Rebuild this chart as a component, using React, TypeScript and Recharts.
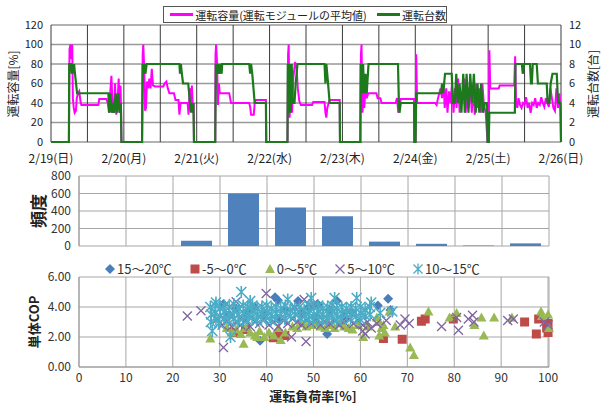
import {
  LineChart,
  Line,
  BarChart,
  Bar,
  ScatterChart,
  Scatter,
  XAxis,
  YAxis,
  CartesianGrid,
} from 'recharts'

const FONT = '"Noto Sans CJK JP", "Noto Sans", sans-serif'
const MAGENTA = '#ff00ff'
const DARK_GREEN = '#1c7a1c'

// ---- top panel: time series (hours from 2/19 0:00) ----
const dateLabels = ['2/19(日)', '2/20(月)', '2/21(火)', '2/22(水)', '2/23(木)', '2/24(金)', '2/25(土)', '2/26(日)']
const halfDayTicks = [0, 12, 24, 36, 48, 60, 72, 84, 96, 108, 120, 132, 144, 156, 168]
const capacityTicks = [0, 20, 40, 60, 80, 100, 120]
const unitTicks = [0, 2, 4, 6, 8, 10, 12]

// 運転容量 [%] : [hour, value]
const capacityPts: [number, number][] = [
  [0, 0], [5.9, 0], [6.1, 95], [6.4, 100], [6.7, 85], [7.0, 100], [7.2, 45], [7.5, 35], [7.8, 30], [8.2, 32], [8.5, 45], [8.9, 50], [9.3, 52], [9.7, 42], [10.0, 38], [15.6, 38], [15.9, 44], [18.3, 44], [18.7, 40], [19.1, 30], [19.5, 50], [19.9, 68], [20.3, 35], [20.7, 30], [21.1, 60], [21.5, 28], [21.9, 40], [22.3, 65], [22.6, 30], [22.9, 58], [23.1, 30], [23.2, 0],
  [30.0, 0], [30.2, 90], [30.4, 100], [30.7, 75], [31.0, 32], [31.3, 35], [31.6, 62], [32.0, 55], [32.4, 65], [32.8, 55], [33.2, 75], [33.6, 58], [34.2, 57], [37.0, 57], [37.4, 60], [38.0, 62], [38.5, 55], [39.0, 50], [40.5, 50], [41.0, 43], [42.0, 43], [42.3, 28], [42.7, 40], [45.0, 40], [45.3, 28], [45.7, 55], [46.0, 32], [46.4, 58], [46.8, 30], [47.0, 40], [47.1, 0],
  [54.1, 0], [54.2, 90], [54.4, 100], [54.7, 80], [55.0, 38], [55.3, 60], [55.6, 50], [58.7, 50], [59.0, 45], [59.3, 40], [65.3, 40], [65.6, 36], [65.9, 28], [66.8, 28], [67.1, 40], [67.5, 43], [70.8, 43], [70.9, 0],
  [77.9, 0], [78.1, 90], [78.3, 100], [78.6, 25], [79.0, 60], [79.4, 30], [79.8, 65], [80.4, 82], [80.9, 75], [81.3, 55], [81.8, 42], [82.3, 38], [86.0, 38], [86.4, 41], [90.1, 41], [90.4, 30], [90.7, 25], [91.0, 35], [91.8, 43], [95.1, 43], [95.2, 0],
  [101.9, 0], [102.1, 90], [102.3, 100], [102.6, 30], [102.9, 55], [103.2, 35], [103.6, 58], [104.0, 45], [104.5, 50], [107.2, 50], [107.6, 45], [108.5, 45], [108.9, 40], [113.5, 40], [114.0, 45], [114.4, 30], [114.8, 36], [115.2, 44], [119.6, 44], [119.7, 0],
  [120.1, 0], [120.3, 90], [120.6, 40], [126.5, 40], [127.0, 38], [127.5, 45], [128.3, 55], [128.8, 45], [129.3, 60], [129.7, 35], [130.2, 55], [130.6, 30], [131.1, 52], [131.6, 40], [132.1, 60], [132.6, 30], [133.1, 55], [133.6, 35], [134.1, 65], [134.6, 30], [135.1, 50], [135.6, 45], [136.1, 65], [136.6, 30], [137.1, 55], [137.6, 35], [138.1, 62], [138.6, 30], [139.1, 55], [139.6, 28], [140.1, 60], [140.6, 35], [141.1, 55], [141.6, 30], [142.1, 60], [142.6, 38], [143.2, 30], [143.8, 0],
  [144.2, 0], [144.4, 94], [144.7, 55], [147.5, 55], [147.8, 58], [152.6, 58], [152.9, 88], [153.2, 40], [153.6, 35], [154.0, 45], [154.5, 38], [155.0, 35], [155.5, 40], [156.0, 38], [156.5, 46], [157.0, 35], [157.5, 40], [158.0, 30], [158.5, 40], [159.0, 38], [159.5, 45], [160.0, 35], [160.5, 40], [161.0, 38], [161.5, 46], [162.0, 40], [162.5, 36], [163.0, 45], [163.5, 40], [164.0, 36], [164.5, 55], [165.0, 45], [165.5, 35], [166.0, 32], [166.5, 55], [167.0, 35], [167.5, 50], [167.9, 32], [168, 0],
]

// 運転台数 [台] : [hour, units]
const unitPts: [number, number][] = [
  [0, 0], [5.9, 0], [6.0, 8], [6.6, 8], [6.8, 7], [7.0, 8], [7.3, 7], [7.6, 8], [7.9, 7], [8.6, 5], [18.9, 5], [19.2, 3], [19.6, 5], [20.0, 3], [20.4, 4], [20.8, 3], [21.3, 5], [21.7, 3], [22.2, 5], [22.6, 3], [23.0, 4], [23.2, 0],
  [30.0, 0], [30.2, 8], [30.5, 7], [30.8, 8], [31.1, 7], [31.5, 8], [42.3, 8], [42.5, 7], [42.8, 8], [43.1, 7], [43.5, 6], [45.2, 6], [45.5, 5], [45.8, 4], [46.1, 3], [46.4, 4], [46.7, 3], [46.9, 4], [47.1, 0],
  [54.1, 0], [54.3, 8], [54.6, 7], [55.0, 8], [55.4, 7], [55.8, 8], [56.2, 7], [56.4, 8], [65.3, 8], [65.6, 7], [65.9, 8], [66.3, 7], [67.1, 4], [70.8, 4], [70.9, 0],
  [77.9, 0], [78.0, 8], [78.3, 3], [78.6, 8], [79.0, 3], [79.3, 8], [79.6, 4], [80.2, 4], [80.6, 6], [81.2, 8], [90.1, 8], [90.4, 6], [90.7, 8], [91.0, 7], [91.8, 4], [95.1, 4], [95.2, 0],
  [101.9, 0], [102.0, 8], [102.4, 5], [102.8, 8], [103.2, 5], [103.6, 7], [104.0, 5], [104.6, 8], [114.3, 8], [114.6, 4], [114.8, 3], [115.2, 4], [119.6, 4], [119.7, 0], [120.1, 0], [120.3, 5],
  [128.5, 5], [128.8, 6], [129.2, 5], [129.8, 7], [132.0, 7], [132.4, 4], [133.0, 4], [133.5, 7], [134.0, 4], [134.6, 6], [135.2, 3], [135.8, 7], [136.3, 3], [136.9, 7], [137.5, 3], [138.1, 7], [138.7, 4], [139.3, 7], [139.9, 3], [140.5, 6], [141.1, 3], [141.7, 6], [142.3, 3], [142.9, 4], [143.6, 4], [143.8, 0], [144.2, 0], [144.4, 3],
  [152.8, 3], [153.0, 8], [155.1, 8], [155.4, 7], [155.8, 8], [157.8, 8], [158.1, 6], [158.4, 6], [158.7, 8], [160.0, 8], [160.4, 6], [163.3, 6], [163.6, 4], [164.2, 4], [164.6, 6], [165.2, 7], [166.6, 7], [166.9, 5], [167.2, 4], [167.8, 4], [168, 0],
]

// ---- middle panel: histogram of 運転負荷率 ----
const binStarts = [0, 10, 20, 30, 40, 50, 60, 70, 80, 90]
const binFreq = [0, 0, 60, 600, 440, 340, 50, 25, 5, 30]
const freqTicks = [0, 200, 400, 600, 800]
const loadTicks = [0, 10, 20, 30, 40, 50, 60, 70, 80, 90, 100]
const copTicks = [0, 2, 4, 6]

// ---- bottom panel: COP vs load, by outdoor temperature ----
const pts15to20: [number, number][] = [
  [30.8, 4.2], [32.0, 3.5], [33.5, 3.9], [35.0, 3.3], [36.0, 3.7], [37.5, 4.0], [38.6, 1.75], [39.5, 3.5], [41.8, 4.65], [42.4, 4.45], [42.5, 3.2], [44.0, 3.8], [46.7, 4.4], [47.5, 3.6], [49.0, 4.0], [50.5, 3.3], [51.0, 4.15], [52.9, 2.2], [53.5, 3.8], [55.0, 4.4], [56.5, 3.4], [58.0, 3.7], [63.7, 4.1], [65.9, 4.55], [66.4, 3.8],
]
const ptsM5to0: [number, number][] = [
  [33.0, 2.3], [35.5, 2.5], [41.4, 1.95], [42.5, 2.2], [43.9, 2.1], [64.9, 1.9], [68.9, 1.85], [73.0, 3.05], [73.8, 3.2], [79.8, 3.2], [95.0, 3.0], [97.5, 2.2], [98.0, 3.2], [99.7, 2.6], [100.0, 2.3], [100.0, 2.9],
]
const pts0to5: [number, number][] = [
  [31.5, 2.6], [32.5, 2.3], [33.5, 2.5], [34.5, 2.2], [35.5, 2.6], [36.5, 2.3], [37.5, 2.1], [38.5, 2.4], [39.5, 2.0], [40.5, 2.3], [41.5, 2.1], [42.5, 2.6], [43.0, 1.8], [44.0, 2.3], [45.5, 2.7], [46.5, 2.6], [47.5, 2.9], [48.5, 2.7], [49.5, 2.8], [50.5, 2.9], [51.5, 2.7], [52.5, 2.6], [53.5, 2.8], [54.5, 2.6], [55.5, 2.9], [56.5, 2.7], [57.5, 2.6], [58.3, 2.5], [59.5, 2.8], [60.6, 2.0], [61.5, 2.7],
  [28.0, 1.9], [35.1, 1.55], [38.0, 2.0], [63.5, 3.3], [64.0, 2.1], [64.0, 3.0], [64.5, 2.6], [64.9, 2.8], [65.2, 2.3], [66.2, 3.7], [67.4, 2.7], [70.6, 1.3], [71.4, 0.8], [74.5, 3.7], [79.0, 3.3], [80.5, 3.6], [84.3, 2.8], [85.8, 3.3], [86.3, 2.1], [88.5, 3.3], [92.3, 3.3], [98.5, 3.7], [98.7, 3.4], [100.0, 3.5], [100.2, 2.6],
]
const pts5to10: [number, number][] = [
  [29.5, 3.2], [30.5, 2.8], [31.5, 3.1], [32.5, 2.7], [33.5, 3.0], [34.5, 2.8], [35.5, 3.1], [36.5, 2.7], [37.5, 3.0], [38.5, 2.9], [39.5, 3.2], [40.5, 2.8], [41.5, 3.0], [42.5, 2.7], [43.5, 3.1], [44.5, 2.9], [45.5, 3.2], [46.5, 3.0], [47.5, 2.8], [48.5, 3.1], [49.5, 2.9], [50.5, 3.2], [51.5, 2.8], [52.5, 3.0], [53.5, 2.9], [54.5, 3.1], [55.5, 2.8], [56.5, 3.0], [57.5, 3.2], [58.5, 2.9], [59.5, 3.1], [60.5, 2.8], [61.5, 3.0],
  [46.0, 4.0], [48.0, 4.5], [50.0, 4.2], [23.1, 3.4], [26.0, 3.75], [30.8, 1.3], [39.9, 4.9], [33.5, 4.35], [45.3, 2.0], [48.4, 1.7], [60.5, 2.4], [61.0, 2.2], [62.3, 2.6], [63.5, 2.9], [65.5, 3.1], [68.5, 2.8], [69.5, 3.2], [70.4, 2.9], [77.3, 2.7], [80.5, 3.3], [80.9, 2.45], [83.0, 3.2], [83.9, 3.45], [84.2, 3.0], [91.4, 3.1], [92.6, 3.2], [99.2, 3.0], [100.0, 2.8],
]
const pts10to15: [number, number][] = [
  [28.0, 4.0], [28.2, 3.5], [28.1, 3.0], [29.1, 4.1], [29.0, 3.6], [29.2, 3.2], [30.1, 3.9], [30.0, 3.4], [29.8, 2.9], [31.0, 4.1], [31.1, 3.7], [30.9, 3.2],
  [32.0, 4.0], [32.1, 3.5], [31.9, 3.1], [33.0, 4.2], [33.1, 3.7], [32.9, 3.2], [34.0, 3.9], [34.1, 3.5], [33.9, 3.0], [35.0, 4.1], [35.1, 3.6], [34.9, 3.2],
  [36.0, 4.0], [36.1, 3.5], [35.9, 3.1], [37.0, 4.1], [37.1, 3.7], [36.9, 3.3], [38.0, 3.9], [38.1, 3.5], [37.9, 3.1], [39.0, 4.0], [39.1, 3.6], [38.9, 3.2],
  [40.0, 4.1], [40.1, 3.7], [39.9, 3.3], [41.0, 3.9], [41.1, 3.5], [40.9, 3.1], [42.0, 4.0], [42.1, 3.6], [41.9, 3.2], [43.0, 3.9], [43.1, 3.5], [44.0, 4.1], [44.1, 3.6], [43.9, 3.2],
  [45.0, 3.8], [45.1, 3.4], [46.0, 3.9], [46.1, 3.5], [47.0, 4.0], [47.1, 3.3], [48.0, 3.8], [48.1, 3.4], [49.0, 4.1], [49.1, 3.6], [48.9, 3.2], [50.0, 4.0], [50.1, 3.5], [49.9, 3.1],
  [51.0, 4.1], [51.1, 3.7], [50.9, 3.2], [52.0, 3.9], [52.1, 3.5], [51.9, 3.1], [53.0, 4.0], [53.1, 3.6], [52.9, 3.2], [54.0, 4.1], [54.1, 3.7], [53.9, 3.3], [55.0, 3.9], [55.1, 3.5], [54.9, 3.1],
  [56.0, 4.0], [56.1, 3.6], [55.9, 3.2], [57.0, 3.9], [57.1, 3.5], [58.0, 4.0], [58.1, 3.6], [57.9, 3.2], [59.0, 3.9], [59.1, 3.4], [60.0, 4.0], [60.1, 3.6], [59.9, 3.2], [61.0, 3.8], [61.1, 3.4], [62.0, 4.0], [62.1, 3.5],
  [34.6, 5.0], [32.3, 2.0], [28.4, 2.4], [36.5, 4.4], [44.5, 4.5], [49.5, 4.6], [54.5, 4.6], [59.2, 4.6], [62.3, 4.3], [64.2, 3.6], [66.8, 3.7], [29.2, 4.3],
]

const BLUE = '#4a7ebb'
const RED = '#be4b48'
const OLIVE = '#98b954'
const PURPLE = '#8064a2'
const CYAN = '#4bacc6'

const toXY = (pts: [number, number][]) => pts.map(([x, y]) => ({ x, y }))

const diamondShape = (p: any) => (
  <path d={`M${p.cx},${p.cy - 5}L${p.cx + 5},${p.cy}L${p.cx},${p.cy + 5}L${p.cx - 5},${p.cy}Z`} fill={BLUE} />
)
const squareShape = (p: any) => <rect x={p.cx - 4.5} y={p.cy - 4.5} width={9} height={9} fill={RED} />
const triangleShape = (p: any) => (
  <path d={`M${p.cx},${p.cy - 5}L${p.cx + 5},${p.cy + 4}L${p.cx - 5},${p.cy + 4}Z`} fill={OLIVE} />
)
const crossShape = (p: any) => (
  <path
    d={`M${p.cx - 4.5},${p.cy - 4.5}L${p.cx + 4.5},${p.cy + 4.5}M${p.cx - 4.5},${p.cy + 4.5}L${p.cx + 4.5},${p.cy - 4.5}`}
    stroke={PURPLE}
    strokeWidth={1.3}
    fill="none"
  />
)
const starShape = (p: any) => (
  <path
    d={`M${p.cx - 5},${p.cy - 5}L${p.cx + 5},${p.cy + 5}M${p.cx - 5},${p.cy + 5}L${p.cx + 5},${p.cy - 5}M${p.cx},${p.cy - 6}L${p.cx},${p.cy + 6}`}
    stroke={CYAN}
    strokeWidth={1.6}
    fill="none"
  />
)

const legendItems = [
  { label: '15～20℃', color: BLUE, shape: 'diamond' },
  { label: '-5～0℃', color: RED, shape: 'square' },
  { label: '0～5℃', color: OLIVE, shape: 'triangle' },
  { label: '5～10℃', color: PURPLE, shape: 'cross' },
  { label: '10～15℃', color: CYAN, shape: 'star' },
]

function LegendIcon({ shape, color }: { shape: string; color: string }) {
  const c = 6
  let el
  if (shape === 'diamond') el = <path d={`M${c},1L11,${c}L${c},11L1,${c}Z`} fill={color} />
  else if (shape === 'square') el = <rect x={1.5} y={1.5} width={9} height={9} fill={color} />
  else if (shape === 'triangle') el = <path d="M6,1L11,10L1,10Z" fill={color} />
  else if (shape === 'cross') el = <path d="M1.5,1.5L10.5,10.5M1.5,10.5L10.5,1.5" stroke={color} strokeWidth={1.3} />
  else el = <path d="M1.5,1.5L10.5,10.5M1.5,10.5L10.5,1.5M6,0.5L6,11.5" stroke={color} strokeWidth={1.3} />
  return (
    <svg width={12} height={12} style={{ marginRight: 1 }}>
      {el}
    </svg>
  )
}

const rotated = (text: string, x: number, y: number, size: number, bold = false) => (
  <div
    style={{
      position: 'absolute',
      left: x,
      top: y,
      transform: 'translate(-50%, -50%) rotate(-90deg)',
      whiteSpace: 'nowrap',
      fontSize: size,
      fontWeight: bold ? 'bold' : 'normal',
      color: '#222',
    }}
  >
    {text}
  </div>
)

export default function App() {
  const capData = capacityPts.map(([t, v]) => ({ t, v }))
  const unitData = unitPts.map(([t, v]) => ({ t, v }))
  const histData = binStarts.map((s, i) => ({ mid: s + 5, freq: binFreq[i] }))
  const tickStyle = { fontSize: 11, fill: '#222', fontFamily: FONT }
  const tickStyle2 = { fontSize: 12, fill: '#333', fontFamily: FONT }

  return (
    <div
      style={{
        position: 'absolute',
        left: 0,
        top: 0,
        width: 605,
        height: 405,
        background: '#fff',
        fontFamily: FONT,
        overflow: 'hidden',
      }}
    >
      {/* top panel */}
      <div style={{ position: 'absolute', left: 0, top: 0 }}>
        <LineChart width={605} height={170} margin={{ top: 25, right: 0, bottom: 0, left: 0 }}>
          <CartesianGrid yAxisId="left" vertical={false} stroke="#999" strokeWidth={1.6} />
          <CartesianGrid yAxisId="left" horizontal={false} stroke="#3a3a3a" strokeWidth={1} />
          <XAxis
            dataKey="t"
            type="number"
            domain={[0, 168]}
            ticks={halfDayTicks}
            interval={0}
            height={28}
            tickLine={false}
            axisLine={false}
            tick={{ ...tickStyle, fontSize: 12, dy: 4 }}
            tickFormatter={(v: number) => (v % 24 === 0 ? dateLabels[v / 24] : '')}
          />
          <YAxis
            yAxisId="left"
            width={51}
            domain={[0, 120]}
            ticks={capacityTicks}
            interval={0}
            tickLine={false}
            axisLine={false}
            tick={tickStyle}
          />
          <YAxis
            yAxisId="right"
            orientation="right"
            width={44}
            domain={[0, 12]}
            ticks={unitTicks}
            interval={0}
            tickLine={false}
            axisLine={false}
            tick={tickStyle}
          />
          <Line
            yAxisId="left"
            data={capData}
            dataKey="v"
            type="linear"
            stroke={MAGENTA}
            strokeWidth={2}
            dot={false}
            isAnimationActive={false}
          />
          <Line
            yAxisId="right"
            data={unitData}
            dataKey="v"
            type="linear"
            stroke={DARK_GREEN}
            strokeWidth={2.2}
            dot={false}
            isAnimationActive={false}
          />
        </LineChart>
      </div>
      <div
        style={{
          position: 'absolute',
          left: 163,
          top: 6,
          width: 282,
          height: 15,
          border: '1px solid #555',
          background: '#fff',
          display: 'flex',
          alignItems: 'center',
          fontSize: 11,
          color: '#222',
          whiteSpace: 'nowrap',
        }}
      >
        <span style={{ display: 'inline-block', width: 30, height: 3, background: MAGENTA, margin: '0 2px 0 6px' }} />
        運転容量(運転モジュールの平均値)
        <span style={{ display: 'inline-block', width: 30, height: 3, background: DARK_GREEN, margin: '0 2px 0 10px' }} />
        運転台数
      </div>
      {rotated('運転容量[%]', 12, 84, 12)}
      {rotated('運転台数[台]', 592, 84, 12)}

      {/* middle panel */}
      <div style={{ position: 'absolute', left: 0, top: 165 }}>
        <BarChart width={605} height={90} data={histData} margin={{ top: 11, right: 56, bottom: 9, left: 0 }}>
          <CartesianGrid stroke="#a6a6a6" />
          <XAxis dataKey="mid" type="number" domain={[0, 100]} ticks={loadTicks} interval={0} hide />
          <YAxis
            width={79}
            domain={[0, 800]}
            ticks={freqTicks}
            interval={0}
            tickLine={false}
            axisLine={{ stroke: '#999' }}
            tick={tickStyle2}
          />
          <Bar dataKey="freq" fill="#4f81bd" barSize={31} isAnimationActive={false} />
        </BarChart>
      </div>
      {rotated('頻度', 37, 211, 17, true)}

      {/* bottom panel */}
      <div style={{ position: 'absolute', left: 0, top: 260 }}>
        <ScatterChart width={605} height={145} margin={{ top: 17, right: 56, bottom: 16, left: 0 }}>
          <CartesianGrid stroke="#a6a6a6" />
          <XAxis
            dataKey="x"
            type="number"
            domain={[0, 100]}
            ticks={loadTicks}
            interval={0}
            height={22}
            tickLine={false}
            axisLine={{ stroke: '#999' }}
            tick={{ ...tickStyle2, dy: -2 }}
          />
          <YAxis
            dataKey="y"
            type="number"
            width={79}
            domain={[0, 6]}
            ticks={copTicks}
            interval={0}
            tickLine={false}
            axisLine={{ stroke: '#999' }}
            tick={tickStyle2}
            tickFormatter={(v: number) => v.toFixed(2)}
          />
          <Scatter data={toXY(pts15to20)} shape={diamondShape} isAnimationActive={false} />
          <Scatter data={toXY(ptsM5to0)} shape={squareShape} isAnimationActive={false} />
          <Scatter data={toXY(pts0to5)} shape={triangleShape} isAnimationActive={false} />
          <Scatter data={toXY(pts5to10)} shape={crossShape} isAnimationActive={false} />
          <Scatter data={toXY(pts10to15)} shape={starShape} isAnimationActive={false} />
        </ScatterChart>
      </div>
      <div
        style={{
          position: 'absolute',
          left: 104,
          top: 259,
          display: 'flex',
          alignItems: 'center',
          fontSize: 13,
          color: '#333',
          whiteSpace: 'nowrap',
        }}
      >
        {legendItems.map((it) => (
          <span key={it.label} style={{ display: 'flex', alignItems: 'center', marginRight: 17 }}>
            <LegendIcon shape={it.shape} color={it.color} />
            {it.label}
          </span>
        ))}
      </div>
      {rotated('単体COP', 33, 322, 13, true)}
      <div
        style={{
          position: 'absolute',
          left: 313,
          top: 396,
          transform: 'translate(-50%, -50%)',
          fontSize: 13,
          lineHeight: '14px',
          fontWeight: 'bold',
          color: '#222',
          whiteSpace: 'nowrap',
        }}
      >
        運転負荷率[%]
      </div>
    </div>
  )
}
